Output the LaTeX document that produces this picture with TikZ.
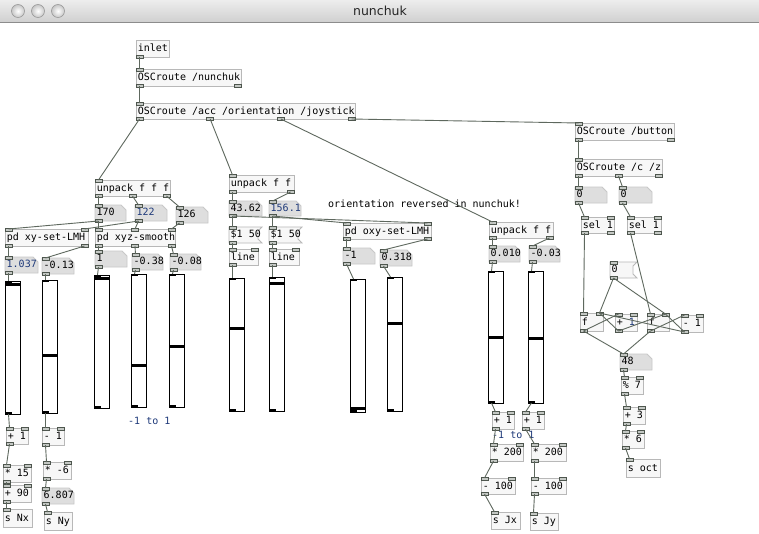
\documentclass[tikz,border=0pt]{standalone}
\usepackage{fontspec}
\setmonofont{DejaVu Sans Mono}
\newfontfamily\titlefont{DejaVu Sans}
\definecolor{objborder}{HTML}{B8B8B8}
\definecolor{objfill}{HTML}{F7F7F7}
\definecolor{numfill}{HTML}{DEDEDE}
\definecolor{numborder}{HTML}{C8C8C8}
\definecolor{wirecol}{HTML}{5E685E}
\definecolor{portdraw}{HTML}{4E564E}
\definecolor{portfill}{HTML}{C4C8C4}
\definecolor{navy}{HTML}{1F3A7A}
\definecolor{tbtop}{HTML}{EDEDED}
\definecolor{tbbot}{HTML}{D0D0D0}
\newcommand\pdfont{\ttfamily\fontsize{10}{11}\selectfont}
\tikzset{
  pdtext/.style={inner xsep=1.5pt, inner ysep=0pt, font=\pdfont, text height=7.5pt, text depth=2pt, text=black},
  objbox/.style={pdtext, draw=objborder, fill=objfill, line width=0.8pt},
  numbox/.style={draw=numborder, fill=numfill, line width=0.8pt},
  msgbox/.style={draw=objborder, fill=objfill, line width=0.8pt},
  port/.style={draw=portdraw, fill=portfill, line width=0.7pt},
  wire/.style={draw=wirecol, line width=0.9pt},
  slider/.style={draw=black, fill=white, line width=0.9pt, inner sep=0pt},
  knob/.style={draw=black, line width=3pt},
  pdcomment/.style={font=\pdfont, inner sep=0pt, anchor=west},
}
% ports: name x y w h nin nout
\newcommand\pdports[7]{%
  \ifnum#6>0
    \pgfmathtruncatemacro\pdn{#6-1}%
    \foreach \k in {0,...,\pdn}{%
      \pgfmathsetmacro\px{#2+\k*(#4-7)/max(\pdn,1)}%
      \draw[port] (\px,#3-1) rectangle ++(7,3);
      \coordinate (#1-i\k) at (\px+3.5,#3);
    }%
  \fi
  \ifnum#7>0
    \pgfmathtruncatemacro\pdm{#7-1}%
    \foreach \k in {0,...,\pdm}{%
      \pgfmathsetmacro\px{#2+\k*(#4-7)/max(\pdm,1)}%
      \draw[port] (\px,#3+#5-2) rectangle ++(7,3);
      \coordinate (#1-o\k) at (\px+3.5,#3+#5);
    }%
  \fi
}
% object: name x y w h text nin nout
\newcommand\pdobj[8]{%
  \pgfmathsetmacro\tw{#4-3}%
  \node[objbox, anchor=north west, minimum height=#5pt] (#1) at (#2,#3) {\makebox[\tw pt][l]{#6}};
  \pdports{#1}{#2}{#3}{#4}{#5}{#7}{#8}%
}
% number box: name x y w h text
\newcommand\pdnum[6]{%
  \filldraw[numbox] (#2,#3) -- (#2+#4-5,#3) -- (#2+#4,#3+5) -- (#2+#4,#3+#5) -- (#2,#3+#5) -- cycle;
  \pgfmathsetmacro\tw{#4-3}%
  \node[pdtext, anchor=north west, minimum height=#5pt] (#1) at (#2,#3) {\makebox[\tw pt][l]{#6}};
  \pdports{#1}{#2}{#3}{#4}{#5}{1}{1}%
}
% message box: name x y w h text
\newcommand\pdmsg[6]{%
  \filldraw[msgbox] (#2,#3) -- (#2+#4,#3) -- (#2+#4-4,#3+4) -- (#2+#4-4,#3+#5-4) -- (#2+#4,#3+#5) -- (#2,#3+#5) -- cycle;
  \pgfmathsetmacro\tw{#4-7}%
  \node[pdtext, anchor=north west, minimum height=#5pt] (#1) at (#2,#3) {\makebox[\tw pt][l]{#6}};
  \pdports{#1}{#2}{#3}{#4-4}{#5}{1}{1}%
}
% slider: name x y w h knob-y
\newcommand\pdslider[6]{%
  \node[slider, anchor=north west, minimum width=#4pt, minimum height=#5pt] (#1) at (#2,#3) {};
  \draw[knob] (#2,#6) -- (#2+#4,#6);
  \fill[black] (#2,#3) rectangle ++(7,2);
  \coordinate (#1-i0) at (#2+3.5,#3);
  \fill[black] (#2,#3+#5-2) rectangle ++(7,2);
  \coordinate (#1-o0) at (#2+3.5,#3+#5);
}
\begin{document}
\begin{tikzpicture}[x=1pt,y=-1pt]
\fill[white] (0,0) rectangle (759,533);
\useasboundingbox (0,0) rectangle (759,533);
% title bar
\shade[top color=tbtop,bottom color=tbbot] (0,0) rectangle (759,22);
\draw[black!45, line width=0.8pt] (0,22.4) -- (759,22.4);
\foreach \cx in {18,38,58}{%
  \shade[inner color=white, outer color=black!22] (\cx,11) circle (6.5);
  \draw[black!40, line width=0.6pt] (\cx,11) circle (6.5);
}
\node[font=\titlefont\fontsize{12.5}{14}\selectfont, text=black!85] (title) at (380,11) {nunchuk};

% ---- top chain
\pdobj{inlet}{136}{40}{33}{17}{inlet}{0}{1}
\pdobj{nunchuk}{136}{69}{105}{17}{OSCroute /nunchuk}{1}{2}
\pdobj{acc}{136}{103}{219}{16}{OSCroute /acc /orientation /joystick}{1}{4}

% ---- left block
\pdobj{unpackL}{95}{180}{75}{16}{unpack f f f}{1}{3}
\pdnum{n170}{95}{205}{31}{16}{170}
\pdnum{n122}{135}{205}{32}{16}{\color{navy}122}
\pdnum{n126}{176}{207}{32}{16}{126}
\pdobj{xyLMH}{5}{229}{83}{17}{pd xy-set-LMH}{2}{2}
\pdobj{xyz}{95}{229}{80}{17}{pd xyz-smooth}{3}{3}
\pdnum{n1037}{5}{257}{33}{16}{\color{navy}1.037}
\pdnum{nm013}{42}{258}{32}{16}{-0.13}
\pdnum{n1}{95}{251}{32}{16}{1}
\pdnum{nm038}{132}{254}{31}{16}{-0.38}
\pdnum{nm008}{170}{254}{31}{16}{-0.08}

\pdslider{s1}{5}{281}{15}{133}{284}
\pdslider{s2}{42}{280}{15}{133}{355}
\pdslider{s3}{94}{275}{15}{133}{278}
\pdslider{s4}{131}{274}{15}{133}{365}
\pdslider{s5}{169}{274}{15}{133}{346}

\pdobj{p1L}{6}{428}{22}{16}{+ 1}{2}{1}
\pdobj{m1L}{42}{428}{22}{17}{- 1}{2}{1}
\pdobj{t15}{3}{465}{28}{17}{* 15}{2}{1}
\pdobj{p90}{3}{485}{28}{17}{+ 90}{2}{1}
\pdobj{sNx}{3}{509}{29}{18}{s Nx}{1}{0}
\pdobj{tm6}{43}{462}{28}{17}{* -6}{2}{1}
\pdnum{n6807}{42}{488}{32}{16}{6.807}
\pdobj{sNy}{44}{512}{28}{18}{s Ny}{1}{0}
\node[pdcomment, text=navy] (c1) at (128,421) {-1 to 1};

% ---- middle block
\pdobj{unpackM}{229}{175}{65}{17}{unpack f f}{1}{2}
\pdnum{n4362}{229}{201}{33}{15}{43.62}
\pdnum{n1561}{269}{201}{32}{15}{\color{navy}156.1}
\pdmsg{msg1}{229}{227}{33}{16}{\$1 50}
\pdmsg{msg2}{269}{227}{33}{16}{\$1 50}
\pdobj{line1}{229}{249}{29}{16}{line}{2}{1}
\pdobj{line2}{269}{249}{30}{16}{line}{2}{1}
\pdobj{oxy}{343}{223}{88}{16}{pd oxy-set-LMH}{2}{2}
\pdnum{nm1}{343}{248}{32}{16}{-1}
\pdnum{n0318}{380}{250}{32}{16}{0.318}
\node[pdcomment] (c2) at (328,204) {orientation reversed in nunchuk!};

\pdslider{s6}{229}{278}{15}{133}{328}
\pdslider{s7}{269}{277}{15}{134}{283}
\pdslider{s8}{350}{279}{15}{133}{408}
\pdslider{s9}{387}{277}{15}{134}{323}

% ---- joystick block
\pdobj{unpackR}{489}{222}{64}{16}{unpack f f}{1}{2}
\pdnum{n0010}{489}{246}{31}{16}{0.010}
\pdnum{nm003}{529}{246}{31}{16}{-0.03}
\pdslider{s10}{488}{271}{15}{132}{337}
\pdslider{s11}{528}{271}{15}{132}{338}
\pdobj{p1Ja}{492}{412}{22}{17}{+ 1}{2}{1}
\pdobj{p1Jb}{522}{412}{22}{17}{+ 1}{2}{1}
\pdobj{t200a}{490}{444}{33}{17}{* 200}{2}{1}
\pdobj{t200b}{531}{444}{35}{17}{* 200}{2}{1}
\pdobj{m100a}{481}{478}{34}{16}{- 100}{2}{1}
\pdobj{m100b}{531}{478}{35}{16}{- 100}{2}{1}
\pdobj{sJx}{491}{512}{29}{17}{s Jx}{1}{0}
\pdobj{sJy}{530}{513}{28}{17}{s Jy}{1}{0}
\node[pdcomment, text=navy] (c3) at (492,435) {-1 to 1};

% ---- button block
\pdobj{btn}{575}{123}{99}{17}{OSCroute /button}{1}{2}
\pdobj{cz}{575}{159}{87}{17}{OSCroute /c /z}{1}{3}
\pdnum{n0a}{575}{187}{32}{16}{0}
\pdnum{n0b}{619}{187}{33}{16}{0}
\pdobj{sela}{581}{217}{33}{16}{sel 1}{2}{2}
\pdobj{selb}{627}{217}{34}{16}{sel 1}{2}{2}
\pdmsg{msg0}{610}{262}{27}{16}{0}
\pdobj{fL}{580}{313}{23}{18}{f}{2}{1}
\pdobj{plus1}{615}{314}{22}{17}{+ {\color{navy}1}}{2}{1}
\pdobj{fR}{647}{314}{22}{17}{f}{2}{1}
\pdobj{minus1}{681}{315}{22}{17}{- 1}{2}{1}
\pdnum{n48}{620}{354}{32}{16}{48}
\pdobj{mod7}{621}{377}{22}{17}{\% 7}{2}{1}
\pdobj{p3}{623}{407}{22}{17}{+ 3}{2}{1}
\pdobj{t6}{622}{431}{22}{17}{* 6}{2}{1}
\pdobj{soct}{626}{459}{34}{18}{s oct}{1}{0}

% ---- wires
\foreach \a/\b in {
  inlet-o0/nunchuk-i0, nunchuk-o0/acc-i0,
  acc-o0/unpackL-i0, acc-o1/unpackM-i0, acc-o2/unpackR-i0, acc-o3/btn-i0,
  unpackL-o0/n170-i0, unpackL-o1/n122-i0, unpackL-o2/n126-i0,
  n170-o0/xyLMH-i0, n170-o0/xyz-i0, n122-o0/xyLMH-i1, n122-o0/xyz-i1, n126-o0/xyz-i2,
  xyLMH-o0/n1037-i0, xyLMH-o1/nm013-i0,
  xyz-o0/n1-i0, xyz-o1/nm038-i0, xyz-o2/nm008-i0,
  n1037-o0/s1-i0, nm013-o0/s2-i0, n1-o0/s3-i0, nm038-o0/s4-i0, nm008-o0/s5-i0,
  s1-o0/p1L-i0, s2-o0/m1L-i0,
  p1L-o0/t15-i0, t15-o0/p90-i0, p90-o0/sNx-i0,
  m1L-o0/tm6-i0, tm6-o0/n6807-i0, n6807-o0/sNy-i0,
  unpackM-o0/n4362-i0, unpackM-o1/n1561-i0,
  n4362-o0/msg1-i0, n1561-o0/msg2-i0,
  n4362-o0/oxy-i1, n1561-o0/oxy-i0,
  msg1-o0/line1-i0, msg2-o0/line2-i0, line1-o0/s6-i0, line2-o0/s7-i0,
  oxy-o0/nm1-i0, oxy-o1/n0318-i0, nm1-o0/s8-i0, n0318-o0/s9-i0,
  unpackR-o0/n0010-i0, unpackR-o1/nm003-i0,
  n0010-o0/s10-i0, nm003-o0/s11-i0,
  s10-o0/p1Ja-i0, s11-o0/p1Jb-i0,
  p1Ja-o0/t200a-i0, p1Jb-o0/t200b-i0,
  t200a-o0/m100a-i0, t200b-o0/m100b-i0,
  m100a-o0/sJx-i0, m100b-o0/sJy-i0,
  btn-o0/cz-i0, cz-o0/n0a-i0, cz-o1/n0b-i0,
  n0a-o0/sela-i0, n0b-o0/selb-i0,
  sela-o0/fL-i0, selb-o0/fR-i0,
  msg0-o0/fL-i1, msg0-o0/fR-i1,
  fL-o0/plus1-i0, plus1-o0/fL-i1, plus1-o0/fR-i1,
  fR-o0/minus1-i0, minus1-o0/fR-i1, minus1-o0/fL-i1,
  fL-o0/n48-i0, fR-o0/n48-i0,
  n48-o0/mod7-i0, mod7-o0/p3-i0, p3-o0/t6-i0, t6-o0/soct-i0}
  {\draw[wire] (\a) -- (\b);}
\end{tikzpicture}
\end{document}
